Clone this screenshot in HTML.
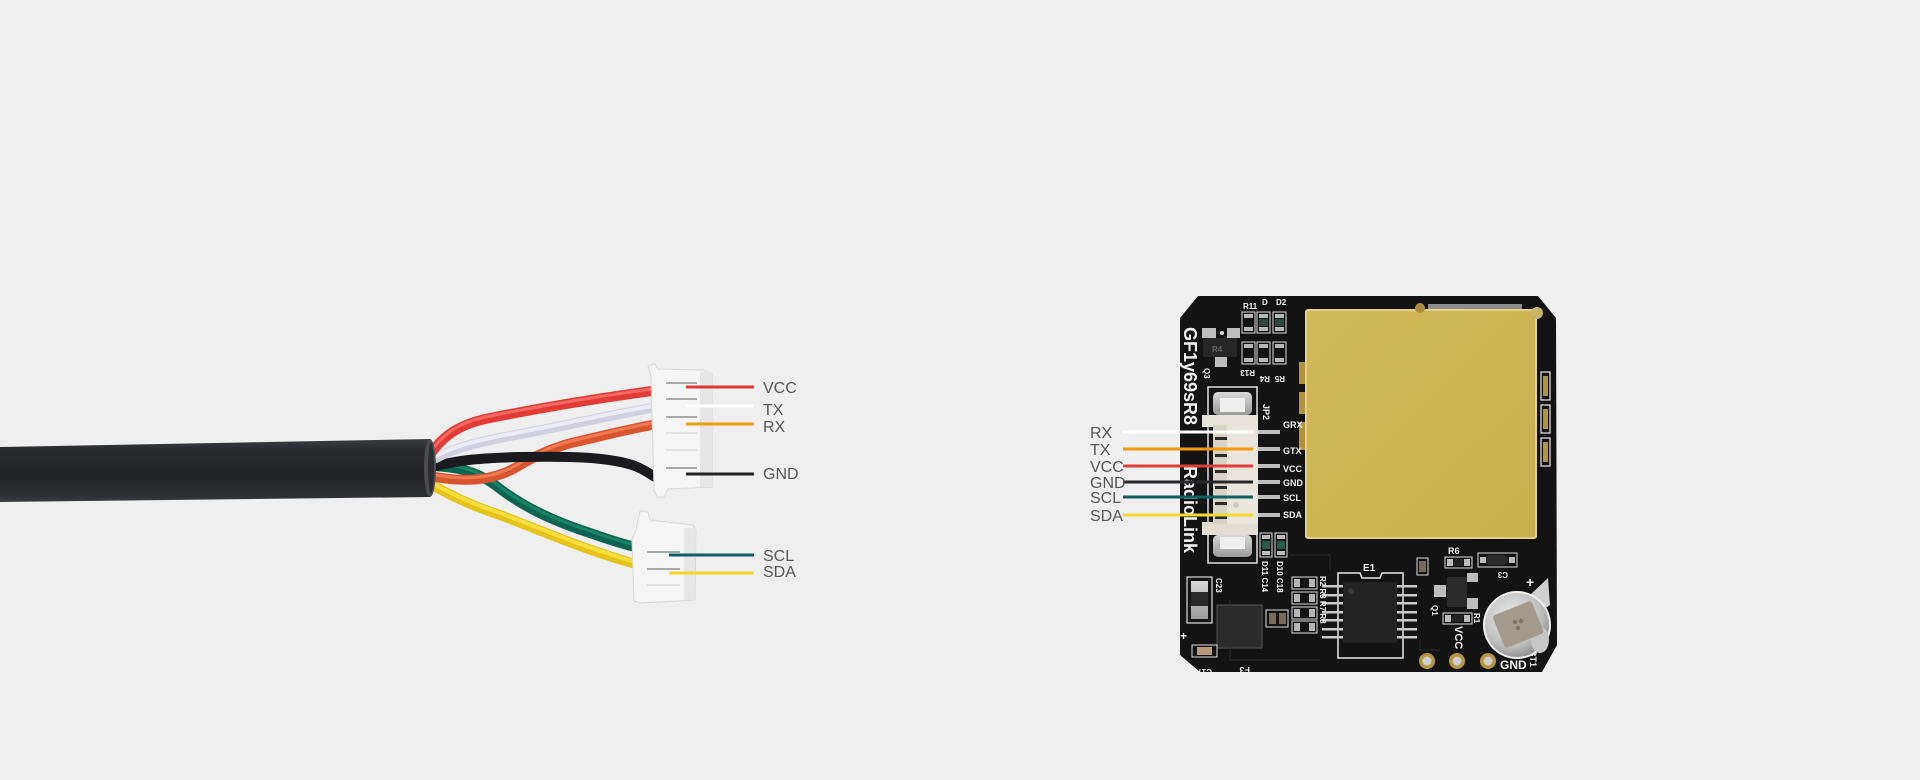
<!DOCTYPE html>
<html>
<head>
<meta charset="utf-8">
<style>
html,body{margin:0;padding:0;background:#efefef;}
body{width:1920px;height:780px;overflow:hidden;}
svg{display:block;}
.lbl{font-family:"Liberation Sans",sans-serif;font-size:16px;fill:#555;}
.silk{font-family:"Liberation Sans",sans-serif;font-weight:bold;fill:#f2f2f2;}
</style>
</head>
<body>
<svg width="1920" height="780" viewBox="0 0 1920 780" xmlns="http://www.w3.org/2000/svg">
<defs>
  <linearGradient id="cable" x1="0" y1="0" x2="0" y2="1">
    <stop offset="0" stop-color="#3a3d43"/>
    <stop offset="0.15" stop-color="#2a2d32"/>
    <stop offset="0.6" stop-color="#1f2226"/>
    <stop offset="0.9" stop-color="#2b2e33"/>
    <stop offset="1" stop-color="#3c3f44"/>
  </linearGradient>
  <linearGradient id="gold" x1="0" y1="0" x2="1" y2="1">
    <stop offset="0" stop-color="#d2b95c"/>
    <stop offset="0.5" stop-color="#cdb352"/>
    <stop offset="1" stop-color="#c9ae4c"/>
  </linearGradient>
  <radialGradient id="batt" cx="0.4" cy="0.35" r="0.7">
    <stop offset="0" stop-color="#e8e8e8"/>
    <stop offset="0.7" stop-color="#bdbdbd"/>
    <stop offset="1" stop-color="#8a8a8a"/>
  </radialGradient>
  <linearGradient id="metal" x1="0" y1="0" x2="0" y2="1">
    <stop offset="0" stop-color="#d8d8d8"/>
    <stop offset="1" stop-color="#9a9a9a"/>
  </linearGradient>
</defs>

<rect width="1920" height="780" fill="#efefef"/>

<!-- ================= CABLE ================= -->
<polygon points="0,447 430,439 430,497 0,502" fill="url(#cable)"/>

<!-- wires -->
<g fill="none" stroke-linecap="round">
  <!-- yellow -->
  <path d="M432,485 C450,495 470,505 500,515 C540,530 580,548 632,563" stroke="#e6c21a" stroke-width="10"/>
  <path d="M432,483 C450,493 470,503 500,513 C540,528 580,546 632,561" stroke="#f6de3c" stroke-width="4"/>
  <!-- green -->
  <path d="M432,466 C455,467 475,470 495,485 C520,505 550,520 590,533 C610,540 625,545 636,547" stroke="#0d6450" stroke-width="10"/>
  <path d="M432,464 C455,465 475,468 495,483 C520,503 550,518 590,531 C610,538 625,543 636,545" stroke="#1a8468" stroke-width="3"/>
  <!-- orange -->
  <path d="M430,476 C460,482 490,482 515,468 C535,456 555,446 580,441 C610,434 630,429 652,425" stroke="#d9552f" stroke-width="10"/>
  <path d="M430,474 C460,480 490,480 515,466 C535,454 555,444 580,439 C610,432 630,427 652,423" stroke="#ef7a52" stroke-width="3"/>
  <!-- black -->
  <path d="M436,466 C460,460 480,458 520,457 C570,456 610,457 635,466 C645,470 650,474 655,477" stroke="#1b1b1f" stroke-width="10"/>
  <!-- white/lavender -->
  <path d="M436,458 C460,445 490,440 520,434 C570,425 610,415 652,408" stroke="#cfd0e2" stroke-width="10"/>
  <path d="M436,456 C460,443 490,438 520,432 C570,423 610,413 652,406" stroke="#ececf5" stroke-width="4"/>
  <!-- red -->
  <path d="M430,455 C445,432 465,423 490,418 C540,408 600,398 652,391" stroke="#e23b35" stroke-width="10"/>
  <path d="M430,453 C445,430 465,421 490,416 C540,406 600,396 652,389" stroke="#f56a62" stroke-width="3"/>
</g>
<!-- cable end face -->
<ellipse cx="430" cy="468" rx="6" ry="29" fill="#4a4c50"/>
<ellipse cx="431" cy="468" rx="3" ry="25" fill="#2a2c30"/>

<!-- connector 1 -->
<polygon points="648,366 655,364 658,369 703,370 712,374 712,487 668,489 664,497 657,497 654,490 651,376" fill="#f5f5f5" stroke="#d6d6d6" stroke-width="1"/>
<rect x="700" y="372" width="12" height="115" fill="#e6e6e6"/>
<g stroke="#a8a8a8" stroke-width="2">
  <line x1="666" y1="383" x2="697" y2="383"/>
  <line x1="666" y1="399" x2="697" y2="399"/>
  <line x1="666" y1="417" x2="697" y2="417"/>
  <line x1="666" y1="468" x2="697" y2="468"/>
</g>
<g stroke="#dcdcdc" stroke-width="1.5">
  <line x1="666" y1="433" x2="697" y2="433"/>
  <line x1="666" y1="450" x2="697" y2="450"/>
</g>

<!-- connector 2 -->
<polygon points="640,511 648,512 650,520 693,525 696,530 695,600 640,603 634,601 632,540 636,530" fill="#f5f5f5" stroke="#d6d6d6" stroke-width="1"/>
<rect x="684" y="528" width="11" height="72" fill="#e6e6e6"/>
<g stroke="#a8a8a8" stroke-width="2">
  <line x1="647" y1="552" x2="680" y2="552"/>
  <line x1="647" y1="569" x2="680" y2="569"/>
</g>
<g stroke="#dcdcdc" stroke-width="1.5">
  <line x1="647" y1="585" x2="680" y2="585"/>
</g>

<!-- cable label lines -->
<g stroke-width="3">
  <line x1="686" y1="387" x2="754" y2="387" stroke="#e03a3a"/>
  <line x1="686" y1="406" x2="754" y2="406" stroke="#ffffff"/>
  <line x1="686" y1="424" x2="754" y2="424" stroke="#f39a0e"/>
  <line x1="686" y1="474" x2="754" y2="474" stroke="#222226"/>
  <line x1="669" y1="555" x2="754" y2="555" stroke="#0f5d5e"/>
  <line x1="669" y1="573" x2="754" y2="573" stroke="#f7d62a"/>
</g>
<text class="lbl" x="763" y="393">VCC</text>
<text class="lbl" x="763" y="415">TX</text>
<text class="lbl" x="763" y="432">RX</text>
<text class="lbl" x="763" y="479">GND</text>
<text class="lbl" x="763" y="561">SCL</text>
<text class="lbl" x="763" y="577">SDA</text>

<!-- ================= BOARD ================= -->
<polygon points="1198,296 1538,296 1556,318 1557,645 1542,672 1200,672 1180,655 1180,318" fill="#131313"/>

<!-- gold shield -->
<rect x="1306" y="310" width="230" height="228" rx="2" fill="url(#gold)" stroke="#e3d189" stroke-width="2"/>
<circle cx="1537" cy="313" r="6" fill="#c8b56a"/>
<rect x="1428" y="304" width="94" height="5" fill="#8e8e8e"/>
<circle cx="1420" cy="308" r="5" fill="#a88d3e"/>
<!-- left side tabs of shield -->
<g fill="#b2923a">
  <rect x="1299" y="362" width="6" height="22"/>
  <rect x="1299" y="392" width="6" height="22"/>
  <rect x="1299" y="422" width="6" height="28"/>
</g>
<!-- right side components -->
<g fill="none" stroke="#e8e8e8" stroke-width="1.2">
  <rect x="1541" y="372" width="9" height="28"/>
  <rect x="1541" y="405" width="9" height="28"/>
  <rect x="1541" y="438" width="9" height="28"/>
</g>
<g fill="#b2923a">
  <rect x="1543" y="376" width="5" height="20"/>
  <rect x="1543" y="409" width="5" height="20"/>
  <rect x="1543" y="442" width="5" height="20"/>
</g>

<!-- top-left area -->
<rect x="1203" y="338" width="34" height="19" fill="#262626"/>
<text class="silk" x="1212" y="352" font-size="8" fill="#555" style="fill:#666">R4</text>
<rect x="1202" y="328" width="14" height="10" fill="#bdbdbd"/>
<rect x="1227" y="328" width="13" height="10" fill="#bdbdbd"/>
<rect x="1215" y="357" width="12" height="10" fill="#bdbdbd"/>
<circle cx="1222" cy="333" r="2" fill="#ddd"/>
<!-- resistor grid -->
<g>
  <g fill="none" stroke="#ddd" stroke-width="1">
    <rect x="1242" y="312" width="13" height="21"/><rect x="1257" y="312" width="13" height="21"/><rect x="1273" y="312" width="13" height="21"/>
    <rect x="1242" y="342" width="13" height="22"/><rect x="1257" y="342" width="13" height="22"/><rect x="1273" y="342" width="13" height="22"/>
  </g>
  <g fill="#b8b8b8">
    <rect x="1244" y="314" width="9" height="4"/><rect x="1244" y="327" width="9" height="4"/>
    <rect x="1259" y="314" width="9" height="4"/><rect x="1259" y="327" width="9" height="4"/>
    <rect x="1275" y="314" width="9" height="4"/><rect x="1275" y="327" width="9" height="4"/>
    <rect x="1244" y="344" width="9" height="4"/><rect x="1244" y="358" width="9" height="4"/>
    <rect x="1259" y="344" width="9" height="4"/><rect x="1259" y="358" width="9" height="4"/>
    <rect x="1275" y="344" width="9" height="4"/><rect x="1275" y="358" width="9" height="4"/>
  </g>
  <g fill="#2d4a3e">
    <rect x="1259" y="319" width="9" height="7"/><rect x="1275" y="319" width="9" height="7"/>
  </g>
</g>
<text class="silk" font-size="8" x="1243" y="309">R11</text>
<text class="silk" font-size="8" x="1262" y="305">D</text>
<text class="silk" font-size="8" x="1276" y="305">D2</text>
<text class="silk" font-size="8" transform="translate(1255,370) rotate(180)">R13</text>
<text class="silk" font-size="8" transform="translate(1270,376) rotate(180)">R4</text>
<text class="silk" font-size="8" transform="translate(1285,376) rotate(180)">R5</text>
<text class="silk" font-size="8" transform="translate(1204,368) rotate(90)">Q3</text>

<!-- vertical brand text -->
<text class="silk" font-size="18" transform="translate(1184,327) rotate(90)">GF1y69sR8</text>
<text class="silk" font-size="18" transform="translate(1184,466) rotate(90)">RadioLink</text>

<!-- JP2 connector area -->
<rect x="1208" y="387" width="49" height="176" fill="none" stroke="#e0e0e0" stroke-width="1.5"/>
<rect x="1213" y="392" width="39" height="23" rx="5" fill="url(#metal)"/>
<rect x="1220" y="398" width="25" height="14" fill="#eee"/>
<rect x="1213" y="535" width="39" height="22" rx="5" fill="url(#metal)"/>
<rect x="1220" y="537" width="25" height="12" fill="#eee"/>
<!-- housing -->
<rect x="1202" y="415" width="56" height="12" fill="#e8e3da"/>
<rect x="1202" y="522" width="56" height="13" fill="#e3ddd3"/>
<rect x="1213" y="425" width="45" height="99" fill="#ebe6dd"/>
<rect x="1213" y="425" width="14" height="99" fill="#d8d2c7"/>
<g fill="#2a2a2a">
  <rect x="1215" y="437" width="12" height="3"/>
  <rect x="1215" y="454" width="12" height="3"/>
  <rect x="1215" y="470" width="12" height="3"/>
  <rect x="1215" y="486" width="12" height="3"/>
  <rect x="1215" y="502" width="12" height="3"/>
  <rect x="1215" y="516" width="12" height="3"/>
</g>
<circle cx="1236" cy="505" r="3" fill="#d2ccc0"/>
<!-- pins -->
<g fill="#bdbdbd">
  <rect x="1258" y="430" width="22" height="4"/>
  <rect x="1258" y="447" width="22" height="4"/>
  <rect x="1258" y="464" width="22" height="4"/>
  <rect x="1258" y="480" width="22" height="4"/>
  <rect x="1258" y="495" width="22" height="4"/>
  <rect x="1258" y="513" width="22" height="4"/>
</g>
<text class="silk" font-size="9" x="1283" y="428">GRX</text>
<text class="silk" font-size="9" x="1283" y="454">GTX</text>
<text class="silk" font-size="9" x="1283" y="472">VCC</text>
<text class="silk" font-size="9" x="1283" y="486">GND</text>
<text class="silk" font-size="9" x="1283" y="501">SCL</text>
<text class="silk" font-size="9" x="1283" y="518">SDA</text>
<text class="silk" font-size="9" transform="translate(1263,404) rotate(90)">JP2</text>

<!-- D10 / D11 -->
<g fill="none" stroke="#ddd" stroke-width="1">
  <rect x="1260" y="533" width="12" height="24"/><rect x="1275" y="533" width="12" height="24"/>
</g>
<g fill="#bbb"><rect x="1262" y="535" width="8" height="4"/><rect x="1262" y="551" width="8" height="4"/><rect x="1277" y="535" width="8" height="4"/><rect x="1277" y="551" width="8" height="4"/></g>
<g fill="#2b5a48"><rect x="1262" y="541" width="8" height="8"/><rect x="1277" y="541" width="8" height="8"/></g>
<text class="silk" font-size="8" transform="translate(1262,561) rotate(90)">D11 C14</text>
<text class="silk" font-size="8" transform="translate(1277,561) rotate(90)">D10 C18</text>

<!-- C23 inductor -->
<rect x="1187" y="577" width="25" height="46" fill="none" stroke="#ddd" stroke-width="1.2"/>
<rect x="1191" y="581" width="17" height="38" fill="url(#metal)"/>
<rect x="1191" y="592" width="17" height="14" fill="#2a2a2a"/>
<text class="silk" font-size="8" transform="translate(1216,578) rotate(90)">C23</text>
<!-- F3 -->
<rect x="1217" y="605" width="45" height="43" fill="#2b2b2b" stroke="#555" stroke-width="1"/>
<text class="silk" font-size="9" transform="translate(1250,667) rotate(180)">F3</text>
<!-- C17 -->
<rect x="1192" y="645" width="25" height="12" fill="none" stroke="#ddd" stroke-width="1"/>
<rect x="1197" y="647" width="15" height="8" fill="#b89a78"/>
<text class="silk" font-size="8" transform="translate(1212,669) rotate(180)">C17</text>
<text class="silk" font-size="12" x="1180" y="640">+</text>

<!-- small comp column -->
<g fill="none" stroke="#ddd" stroke-width="1">
  <rect x="1292" y="577" width="25" height="12"/>
  <rect x="1292" y="592" width="25" height="12"/>
  <rect x="1292" y="607" width="25" height="12"/>
  <rect x="1292" y="621" width="25" height="12"/>
  <rect x="1266" y="610" width="22" height="17"/>
</g>
<g fill="#b5b5b5">
  <rect x="1294" y="579" width="6" height="8"/><rect x="1309" y="579" width="6" height="8"/>
  <rect x="1294" y="594" width="6" height="8"/><rect x="1309" y="594" width="6" height="8"/>
  <rect x="1294" y="609" width="6" height="8"/><rect x="1309" y="609" width="6" height="8"/>
  <rect x="1294" y="623" width="6" height="8"/><rect x="1309" y="623" width="6" height="8"/>
</g>
<rect x="1269" y="613" width="7" height="11" fill="#7a6a5a"/><rect x="1279" y="613" width="7" height="11" fill="#7a6a5a"/>

<!-- E1 chip -->
<path d="M1338,573 L1360,573 L1362,578 L1380,578 L1382,573 L1403,573 L1403,658 L1338,658 Z" fill="none" stroke="#e8e8e8" stroke-width="1.5"/>
<g fill="#c8c8c8">
  <rect x="1322" y="585" width="21" height="2.5"/><rect x="1322" y="594" width="21" height="2.5"/><rect x="1322" y="602" width="21" height="2.5"/>
  <rect x="1322" y="611" width="21" height="2.5"/><rect x="1322" y="619" width="21" height="2.5"/><rect x="1322" y="628" width="21" height="2.5"/>
  <rect x="1322" y="636" width="21" height="2.5"/>
  <rect x="1397" y="585" width="20" height="2.5"/><rect x="1397" y="594" width="20" height="2.5"/><rect x="1397" y="602" width="20" height="2.5"/>
  <rect x="1397" y="611" width="20" height="2.5"/><rect x="1397" y="619" width="20" height="2.5"/><rect x="1397" y="628" width="20" height="2.5"/>
  <rect x="1397" y="636" width="20" height="2.5"/>
</g>
<rect x="1343" y="582" width="54" height="61" rx="2" fill="#232323"/>
<circle cx="1351" cy="591" r="3" fill="#3a3a3a"/>
<text class="silk" font-size="10" x="1363" y="571">E1</text>
<text class="silk" font-size="8" transform="translate(1320,576) rotate(90)">R2 R3 R7 R8</text>

<!-- right bottom components -->
<rect x="1417" y="558" width="11" height="17" fill="none" stroke="#ddd" stroke-width="1"/>
<rect x="1419" y="561" width="7" height="11" fill="#7a6a58"/>
<rect x="1445" y="557" width="27" height="11" fill="none" stroke="#ddd" stroke-width="1"/>
<rect x="1447" y="559" width="6" height="7" fill="#bbb"/><rect x="1464" y="559" width="6" height="7" fill="#bbb"/><rect x="1454" y="559" width="9" height="7" fill="#222"/>
<text class="silk" font-size="9" x="1448" y="554">R6</text>
<rect x="1478" y="553" width="39" height="14" fill="none" stroke="#ddd" stroke-width="1"/>
<rect x="1480" y="557" width="6" height="6" fill="#bbb"/><rect x="1509" y="557" width="6" height="6" fill="#bbb"/><rect x="1488" y="555" width="19" height="10" fill="#2a2a2a"/>
<text class="silk" font-size="8" transform="translate(1508,572) rotate(180)">C3</text>
<!-- Q1 -->
<rect x="1447" y="577" width="20" height="30" fill="#2a2a2a"/>
<rect x="1434" y="585" width="12" height="12" fill="#bdbdbd"/>
<rect x="1467" y="573" width="11" height="9" fill="#bdbdbd"/>
<rect x="1467" y="598" width="11" height="11" fill="#bdbdbd"/>
<text class="silk" font-size="8" transform="translate(1432,605) rotate(90)">Q1</text>
<!-- R1 -->
<rect x="1443" y="613" width="29" height="11" fill="none" stroke="#ddd" stroke-width="1"/>
<rect x="1445" y="615" width="6" height="7" fill="#bbb"/><rect x="1464" y="615" width="6" height="7" fill="#bbb"/><rect x="1452" y="615" width="11" height="7" fill="#222"/>
<text class="silk" font-size="8" transform="translate(1474,613) rotate(90)">R1</text>
<text class="silk" font-size="11" transform="translate(1455,626) rotate(90)">VCC</text>

<!-- pads -->
<g>
  <circle cx="1427" cy="661" r="8" fill="#b8953f"/><circle cx="1427" cy="661" r="4.5" fill="#cfcfcf"/>
  <circle cx="1457" cy="661" r="8" fill="#b8953f"/><circle cx="1457" cy="661" r="4.5" fill="#cfcfcf"/>
  <circle cx="1488" cy="661" r="8" fill="#b8953f"/><circle cx="1488" cy="661" r="4.5" fill="#cfcfcf"/>
</g>
<text class="silk" font-size="12" x="1500" y="669">GND</text>
<text class="silk" font-size="9" transform="translate(1530,650) rotate(90)">BT1</text>

<!-- battery -->
<polygon points="1530,595 1548,578 1550,605 1540,612" fill="#cfcfcf"/>
<circle cx="1517" cy="625" r="34" fill="#f0f0f0"/>
<circle cx="1517" cy="625" r="32" fill="url(#batt)"/>
<ellipse cx="1540" cy="640" rx="9" ry="13" fill="#c8c8c8"/>
<rect x="1497" y="607" width="42" height="35" rx="3" fill="#a39a8c" transform="rotate(-22 1518 624)"/>
<circle cx="1515" cy="622" r="2.2" fill="#7c7468"/><circle cx="1521" cy="621" r="2.2" fill="#7c7468"/><circle cx="1518" cy="628" r="2.2" fill="#7c7468"/>
<text class="silk" font-size="14" x="1526" y="587">+</text>

<!-- misc silkscreen traces -->
<g stroke="#2e2e2e" stroke-width="1" fill="none">
  <path d="M1230,600 L1230,660 L1320,660"/>
  <path d="M1420,640 L1420,650 L1440,650"/>
  <path d="M1290,555 L1330,555 L1330,570"/>
</g>

<!-- board label lines -->
<g stroke-width="3">
  <line x1="1123" y1="432" x2="1253" y2="432" stroke="#ffffff"/>
  <line x1="1123" y1="449" x2="1253" y2="449" stroke="#f29a0c"/>
  <line x1="1123" y1="466" x2="1253" y2="466" stroke="#e03c3c"/>
  <line x1="1123" y1="482" x2="1253" y2="482" stroke="#27272c"/>
  <line x1="1123" y1="497" x2="1253" y2="497" stroke="#0f5f63"/>
  <line x1="1123" y1="515" x2="1253" y2="515" stroke="#f7d82e"/>
</g>
<text class="lbl" x="1090" y="438">RX</text>
<text class="lbl" x="1090" y="455">TX</text>
<text class="lbl" x="1090" y="472">VCC</text>
<text class="lbl" x="1090" y="488">GND</text>
<text class="lbl" x="1090" y="503">SCL</text>
<text class="lbl" x="1090" y="521">SDA</text>
</svg>
</body>
</html>
